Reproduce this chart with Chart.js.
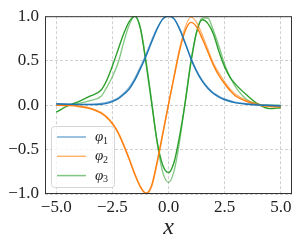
<!DOCTYPE html>
<html>
<head>
<meta charset="utf-8">
<script src="https://cdn.jsdelivr.net/npm/chart.js@4.4.1/dist/chart.umd.min.js"></script>
<style>
  html, body { margin: 0; padding: 0; background: #fff; }
  #wrap { width: 297px; height: 242px; }
</style>
</head>
<body>
<div id="wrap"><canvas id="myChart" width="297" height="242"></canvas></div>
<script>
// x positions where the curves were read
const xs = [-5, -4.5, -4, -3.5, -3, -2.75, -2.5, -2.25, -2, -1.75, -1.5, -1.25, -1, -0.75, -0.5, -0.25,
  0, 0.25, 0.5, 0.75, 1, 1.25, 1.5, 1.75, 2, 2.25, 2.5, 2.75, 3, 3.5, 4, 4.5, 5];

// light (thin) curves
const phi1A = [0.01, 0.01, 0.01, 0.01, 0.02, 0.03, 0.05, 0.08, 0.13, 0.2, 0.3, 0.43, 0.57, 0.73, 0.87, 0.97,
  1.0, 0.97, 0.86, 0.7, 0.53, 0.39, 0.28, 0.2, 0.14, 0.1, 0.07, 0.05, 0.03, 0.015, 0.005, 0, -0.005];
const phi2A = [0, 0, -0.01, -0.03, -0.08, -0.13, -0.2, -0.3, -0.44, -0.6, -0.77, -0.92, -1.0, -0.92, -0.65, -0.33,
  0, 0.33, 0.64, 0.88, 0.99, 0.93, 0.79, 0.63, 0.47, 0.36, 0.26, 0.18, 0.12, 0.05, 0.01, -0.01, -0.02];
const phi3A = [0, 0.005, 0.02, 0.05, 0.1, 0.2, 0.32, 0.47, 0.7, 0.9, 1.0, 0.87, 0.5, 0.05, -0.43, -0.76,
  -0.87, -0.74, -0.4, 0.05, 0.5, 0.82, 0.98, 0.98, 0.84, 0.66, 0.46, 0.31, 0.2, 0.06, 0.01, 0, 0];

// dark (thick) curves
const phi1B = [0.015, 0.01, 0.005, 0.005, 0.01, 0.02, 0.04, 0.07, 0.12, 0.18, 0.28, 0.41, 0.55, 0.71, 0.86, 0.97,
  1.0, 0.97, 0.85, 0.69, 0.52, 0.38, 0.27, 0.19, 0.13, 0.09, 0.06, 0.04, 0.025, 0.01, 0, -0.005, -0.01];
const phi2B = [0, -0.005, -0.015, -0.04, -0.09, -0.14, -0.21, -0.31, -0.45, -0.61, -0.78, -0.92, -0.99, -0.9, -0.63, -0.31,
  0.01, 0.32, 0.62, 0.84, 0.93, 0.88, 0.75, 0.6, 0.45, 0.33, 0.24, 0.16, 0.1, 0.04, 0, -0.015, -0.02];
const phi3B = [-0.08, -0.01, 0.04, 0.1, 0.17, 0.28, 0.44, 0.62, 0.8, 0.94, 1.0, 0.86, 0.47, 0.02, -0.42, -0.68,
  -0.76, -0.64, -0.34, 0.04, 0.48, 0.82, 0.96, 0.92, 0.8, 0.6, 0.43, 0.31, 0.23, 0.11, 0.01, -0.04, -0.03];

const xTicks = [-5, -2.5, 0, 2.5, 5];
const legendLabels = ["φ", "φ", "φ"];
const legendSubs = ["1", "2", "3"];

const colores = ["#1f77b4", "#ff7f0e", "#2ca02c"];
const claros = ["rgba(31,119,180,0.6)", "rgba(255,127,14,0.6)", "rgba(44,160,44,0.6)"];

function puntos(ys) {
  let out = [];
  for (let i = 0; i < xs.length; i++) {
    out.push({ x: xs[i], y: ys[i] });
  }
  return out;
}

function fmt(v) {
  return v.toFixed(1).replace("-", "\u2212");
}

const marco = {
  id: "marco",
  afterDraw(chart) {
    const ctx = chart.ctx;
    const a = chart.chartArea;
    ctx.save();
    ctx.strokeStyle = "#333";
    ctx.lineWidth = 1;
    ctx.strokeRect(a.left + 0.5, a.top + 0.5, a.right - a.left - 1, a.bottom - a.top - 1);

    // legend box, lower left inside the axes
    const bx = 51.5, by = 126.5, bw = 63, bh = 61;
    ctx.beginPath();
    ctx.roundRect(bx, by, bw, bh, 3);
    ctx.fillStyle = "rgba(255,255,255,0.8)";
    ctx.fill();
    ctx.strokeStyle = "#d6d6d6";
    ctx.stroke();
    for (let i = 0; i < 3; i++) {
      const y = 137 + i * 19.3;
      ctx.beginPath();
      ctx.moveTo(57, y);
      ctx.lineTo(86, y);
      ctx.strokeStyle = claros[i];
      ctx.lineWidth = 1.5;
      ctx.stroke();
      ctx.fillStyle = "#222";
      ctx.textBaseline = "middle";
      ctx.font = "italic 15px 'Liberation Serif'";
      ctx.fillText(legendLabels[i], 95, y);
      ctx.font = "10px 'Liberation Serif'";
      ctx.fillText(legendSubs[i], 103, y + 4);
    }
    ctx.restore();
  }
};

const datasets = [];
const claroData = [phi1A, phi2A, phi3A];
const oscuroData = [phi1B, phi2B, phi3B];
for (let i = 0; i < 3; i++) {
  datasets.push({
    label: "φ" + legendSubs[i],
    data: puntos(claroData[i]),
    borderColor: claros[i],
    borderWidth: 1.3,
    pointRadius: 0,
    cubicInterpolationMode: "monotone",
  });
  datasets.push({
    label: "φ" + legendSubs[i] + " approx",
    data: puntos(oscuroData[i]),
    borderColor: colores[i],
    borderWidth: 1.4,
    pointRadius: 0,
    cubicInterpolationMode: "monotone",
  });
}

const ctx = document.getElementById("myChart").getContext("2d");
const myChart = new Chart(ctx, {
  type: "line",
  data: { datasets: datasets },
  options: {
    responsive: false,
    animation: false,
    devicePixelRatio: 1,
    layout: { padding: { left: 0, right: 5, top: 11, bottom: 0 } },
    plugins: {
      legend: { display: false },
      tooltip: { enabled: false },
    },
    scales: {
      x: {
        type: "linear",
        min: -5.5,
        max: 5.5,
        afterBuildTicks: (s) => { s.ticks = xTicks.map((v) => ({ value: v })); },
        afterFit: (s) => { s.height = 48; },
        ticks: {
          callback: (v) => fmt(v),
          font: { family: "'Liberation Serif'", size: 17 },
          color: "#222",
          padding: 3,
          maxRotation: 0,
        },
        grid: { color: "#c4c4c4", lineWidth: 0.8, drawTicks: false },
        border: { display: false, dash: [3, 2] },
        title: {
          display: true,
          text: "x",
          font: { family: "'Liberation Serif'", size: 24, style: "italic" },
          color: "#222",
          padding: { top: 0, bottom: 0 },
        },
      },
      y: {
        min: -1,
        max: 1,
        afterFit: (s) => { s.width = 45; },
        ticks: {
          stepSize: 0.5,
          callback: (v) => fmt(v),
          font: { family: "'Liberation Serif'", size: 17 },
          color: "#222",
          padding: 6,
        },
        grid: { color: "#c4c4c4", lineWidth: 0.8, drawTicks: false },
        border: { display: false, dash: [3, 2] },
      },
    },
  },
  plugins: [marco],
});
</script>
</body>
</html>
